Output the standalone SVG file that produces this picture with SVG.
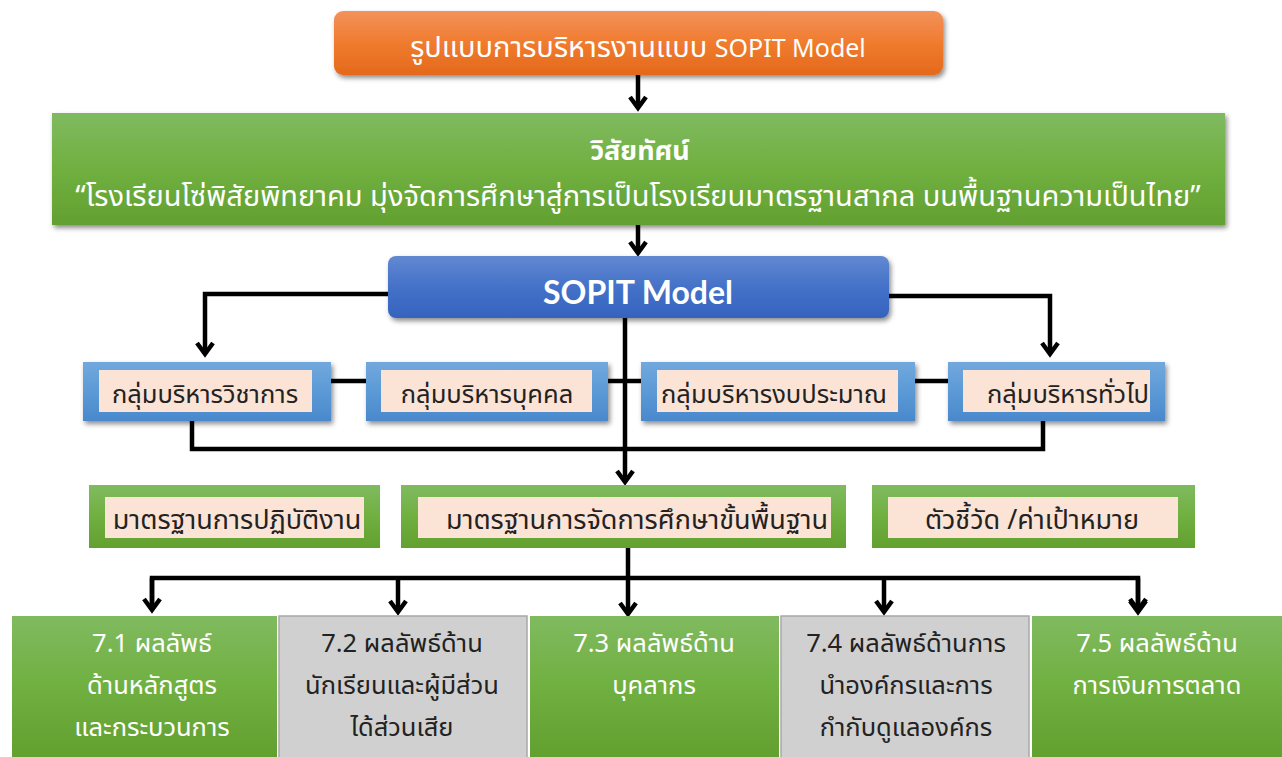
<svg xmlns="http://www.w3.org/2000/svg" width="1282" height="757" viewBox="0 0 1282 757">
<defs>
<linearGradient id="gOrange" x1="0" y1="0" x2="0" y2="1"><stop offset="0" stop-color="#f3925a"/><stop offset="0.5" stop-color="#f07b2e"/><stop offset="1" stop-color="#e4691b"/></linearGradient>
<linearGradient id="gGreen" x1="0" y1="0" x2="0" y2="1"><stop offset="0" stop-color="#80ba60"/><stop offset="0.5" stop-color="#70b040"/><stop offset="1" stop-color="#62a030"/></linearGradient>
<linearGradient id="gBlue" x1="0" y1="0" x2="0" y2="1"><stop offset="0" stop-color="#6289d2"/><stop offset="0.5" stop-color="#4471c8"/><stop offset="1" stop-color="#3563be"/></linearGradient>
<linearGradient id="gLBlue" x1="0" y1="0" x2="0" y2="1"><stop offset="0" stop-color="#72a8dd"/><stop offset="0.5" stop-color="#5b9ad6"/><stop offset="1" stop-color="#4a88cc"/></linearGradient>
<filter id="sh" x="-10%" y="-20%" width="120%" height="150%"><feDropShadow dx="2" dy="3" stdDeviation="2.5" flood-color="#000" flood-opacity="0.45"/></filter>
<marker id="ah" viewBox="0 0 20 20" refX="16" refY="10" markerWidth="20" markerHeight="20" markerUnits="userSpaceOnUse" orient="auto">
<path d="M5,2 L16,10 L5,18" fill="none" stroke="#000" stroke-width="4.5" stroke-linejoin="miter"/>
</marker>
<style>
.th{font-family:"Noto Sans Thai","Noto Sans","DejaVu Sans",sans-serif;}
.w{fill:#fff;}
.d{fill:#222;}
.ln{fill:none;stroke:#000;stroke-width:4.5;}
.peach{fill:#fbe3d6;}
.gray{fill:#d0d0d0;stroke:#a8a8a8;stroke-width:1.5;}
</style>
</defs>
<rect width="1282" height="757" fill="#fff"/>

<g id="connectors">
<path class="ln" d="M638,75 V108" marker-end="url(#ah)"/>
<path class="ln" d="M638,225 V253" marker-end="url(#ah)"/>
<path class="ln" d="M388,294 H205 V354" marker-end="url(#ah)"/>
<path class="ln" d="M889,296 H1050 V354" marker-end="url(#ah)"/>
<path class="ln" d="M331,381 H366"/>
<path class="ln" d="M608,381 H641"/>
<path class="ln" d="M915,381 H948"/>
<path class="ln" d="M625,318 V482" marker-end="url(#ah)"/>
<path class="ln" d="M192,420 V449 H1043 V420"/>
<path class="ln" d="M628,548 V614" marker-end="url(#ah)"/>
<path class="ln" d="M152,610 V578 H1138 V610" marker-end="url(#ah)"/>
<path class="ln" d="M152,578 V610" marker-end="url(#ah)"/>
<path class="ln" d="M398,578 V612" marker-end="url(#ah)"/>
<path class="ln" d="M884,578 V612" marker-end="url(#ah)"/>
<path class="ln" d="M1138,578 V612" marker-end="url(#ah)"/>
</g>

<g id="title">
<rect x="334" y="11" width="609" height="64" rx="9" fill="url(#gOrange)" filter="url(#sh)"/>
<text x="638" y="57" text-anchor="middle" class="th w" font-size="29">รูปแบบการบริหารงานแบบ <tspan font-size="25">SOPIT Model</tspan></text>
</g>

<g id="vision">
<rect x="52" y="113" width="1173" height="112" fill="url(#gGreen)" filter="url(#sh)"/>
<text x="640" y="160" text-anchor="middle" class="th w" font-size="27" font-weight="bold">วิสัยทัศน์</text>
<text x="638" y="206" text-anchor="middle" class="th w" font-size="29">“โรงเรียนโซ่พิสัยพิทยาคม มุ่งจัดการศึกษาสู่การเป็นโรงเรียนมาตรฐานสากล บนพื้นฐานความเป็นไทย”</text>
</g>

<g id="sopit">
<rect x="388" y="256" width="501" height="62" rx="8" fill="url(#gBlue)" filter="url(#sh)"/>
<text x="638" y="304" text-anchor="middle" font-family="Lato,'Open Sans',sans-serif" font-weight="bold" font-size="32" class="w">SOPIT Model</text>
</g>

<g id="g1">
<rect x="83" y="362" width="248" height="59" fill="url(#gLBlue)" filter="url(#sh)"/>
<rect x="99" y="370" width="213" height="42" class="peach"/>
<text x="205" y="403" text-anchor="middle" class="th d" font-size="25.5">กลุ่มบริหารวิชาการ</text>
</g>
<g id="g2">
<rect x="366" y="362" width="242" height="59" fill="url(#gLBlue)" filter="url(#sh)"/>
<rect x="381" y="370" width="211" height="42" class="peach"/>
<text x="487" y="403" text-anchor="middle" class="th d" font-size="25.5">กลุ่มบริหารบุคคล</text>
</g>
<g id="g3">
<rect x="641" y="362" width="274" height="59" fill="url(#gLBlue)" filter="url(#sh)"/>
<rect x="657" y="370" width="241" height="42" class="peach"/>
<text x="774" y="403" text-anchor="middle" class="th d" font-size="25.5">กลุ่มบริหารงบประมาณ</text>
</g>
<g id="g4">
<rect x="948" y="362" width="217" height="59" fill="url(#gLBlue)" filter="url(#sh)"/>
<rect x="963" y="370" width="187" height="42" class="peach"/>
<text x="1068" y="403" text-anchor="middle" class="th d" font-size="25.5">กลุ่มบริหารทั่วไป</text>
</g>

<g id="s1">
<rect x="89" y="485" width="291" height="63" fill="url(#gGreen)"/>
<rect x="105" y="497" width="259" height="41" class="peach"/>
<text x="237" y="529" text-anchor="middle" class="th d" font-size="27">มาตรฐานการปฏิบัติงาน</text>
</g>
<g id="s2">
<rect x="401" y="485" width="445" height="63" fill="url(#gGreen)"/>
<rect x="418" y="497" width="413" height="41" class="peach"/>
<text x="637" y="529" text-anchor="middle" class="th d" font-size="27">มาตรฐานการจัดการศึกษาขั้นพื้นฐาน</text>
</g>
<g id="s3">
<rect x="872" y="485" width="323" height="63" fill="url(#gGreen)"/>
<rect x="888" y="497" width="290" height="41" class="peach"/>
<text x="1032" y="529" text-anchor="middle" class="th d" font-size="27">ตัวชี้วัด /ค่าเป้าหมาย</text>
</g>

<g id="r1">
<rect x="12" y="616" width="265" height="141" fill="url(#gGreen)"/>
<text text-anchor="middle" class="th w" font-size="25.5"><tspan x="152" y="652">7.1 ผลลัพธ์</tspan><tspan x="152" y="694">ด้านหลักสูตร</tspan><tspan x="152" y="736">และกระบวนการ</tspan></text>
</g>
<g id="r2">
<rect x="279" y="616" width="248" height="142" class="gray"/>
<text text-anchor="middle" class="th d" font-size="25.5"><tspan x="402" y="652">7.2 ผลลัพธ์ด้าน</tspan><tspan x="402" y="694">นักเรียนและผู้มีส่วน</tspan><tspan x="402" y="736">ได้ส่วนเสีย</tspan></text>
</g>
<g id="r3">
<rect x="530" y="616" width="249" height="141" fill="url(#gGreen)"/>
<text text-anchor="middle" class="th w" font-size="25.5"><tspan x="654" y="652">7.3 ผลลัพธ์ด้าน</tspan><tspan x="654" y="694">บุคลากร</tspan></text>
</g>
<g id="r4">
<rect x="781" y="616" width="248" height="142" class="gray"/>
<text text-anchor="middle" class="th d" font-size="25.5"><tspan x="906" y="652">7.4 ผลลัพธ์ด้านการ</tspan><tspan x="906" y="694">นำองค์กรและการ</tspan><tspan x="906" y="736">กำกับดูแลองค์กร</tspan></text>
</g>
<g id="r5">
<rect x="1032" y="616" width="250" height="141" fill="url(#gGreen)"/>
<text text-anchor="middle" class="th w" font-size="25.5"><tspan x="1157" y="652">7.5 ผลลัพธ์ด้าน</tspan><tspan x="1157" y="694">การเงินการตลาด</tspan></text>
</g>
</svg>
